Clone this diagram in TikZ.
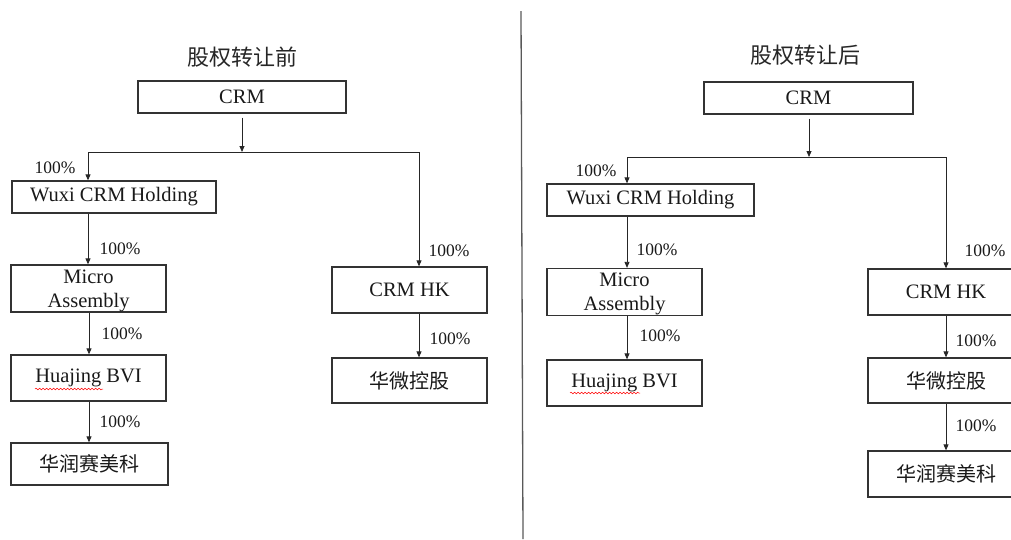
\documentclass[tikz,border=0pt]{standalone}
\usepackage{fontspec}
\setmainfont{Liberation Serif}
\newfontfamily\cjk{Noto Sans CJK SC}
\usetikzlibrary{arrows.meta,decorations.pathmorphing}
\begin{document}
\begin{tikzpicture}[x=1pt,y=-1pt,
  box/.style={draw=black!80, line width=1.3pt, inner sep=0pt, text=black!90,
    font=\fontsize{20.5}{24}\selectfont, align=center},
  cbox/.style={box, font=\cjk\fontsize{20}{24}\selectfont},
  lab/.style={font=\fontsize{17.5}{20}\selectfont, inner sep=0pt, text=black!90},
  ttl/.style={font=\cjk\fontsize{22}{26}\selectfont, inner sep=0pt, text=black!85},
  arr/.style={draw=black!85, line width=0.8pt, -{Triangle[length=6pt,width=5pt]}},
  ln/.style={draw=black!85, line width=0.8pt},
  divider/.style={draw=black!65, line width=1.3pt},
  spell/.style={draw=red, line width=0.5pt, decorate,
    decoration={snake, amplitude=0.8pt, segment length=3.5pt}}
]
\useasboundingbox (0,0) rectangle (1011,539);

% ---------- divider ----------
\coordinate (dtop) at (521,11);
\coordinate (dbot) at (523,539);
\draw[divider] (dtop) -- (dbot);

% ---------- left: before ----------
\node[ttl] (titleL) at (242,57) {股权转让前};
\node[box, minimum width=208pt, minimum height=32pt] (crmL) at (242,97) {CRM};
\node[box, minimum width=204pt, minimum height=32pt] (wuxiL) at (114,197) {Wuxi CRM Holding};
\node[box, minimum width=155pt, minimum height=47pt] (microL) at (88.5,288.5) {\rule{0pt}{18pt}Micro\\Assembly};
\node[box, minimum width=155pt, minimum height=46pt] (huaL) at (88.5,378) {Huajing BVI};
\node[cbox, minimum width=157pt, minimum height=42pt] (hrL) at (89.5,464) {华润赛美科};
\node[box, minimum width=155pt, minimum height=46pt] (hkL) at (409.5,290) {CRM HK};
\node[cbox, minimum width=155pt, minimum height=45pt] (hwL) at (409.5,380.5) {华微控股};

\coordinate (jL) at (242,152);
\coordinate (aL) at (88,152);
\coordinate (bL) at (419,152);
\coordinate (cL) at (89,152);
\draw[ln] (aL) -- (bL);
\draw[arr] ([yshift=-4pt]crmL.south) -- (jL);
\draw[arr] (aL) -- (aL |- wuxiL.north);
\draw[arr] (bL) -- (bL |- hkL.north);
\draw[arr] (wuxiL.south -| aL) -- (aL |- microL.north);
\draw[arr] (microL.south -| cL) -- (cL |- huaL.north);
\draw[arr] (huaL.south -| cL) -- (cL |- hrL.north);
\draw[arr] (hkL.south -| bL) -- (bL |- hwL.north);
\draw[spell] (35,389) -- (103,389);

\node[lab] (pL1) at (55,168) {100\%};
\node[lab] (pL2) at (120,249) {100\%};
\node[lab] (pL3) at (122,334) {100\%};
\node[lab] (pL4) at (120,422) {100\%};
\node[lab] (pL5) at (449,251) {100\%};
\node[lab] (pL6) at (450,339) {100\%};

% ---------- right: after ----------
\node[ttl] (titleR) at (805,55) {股权转让后};
\node[box, minimum width=209pt, minimum height=32pt] (crmR) at (808.5,98) {CRM};
\node[box, minimum width=207pt, minimum height=32pt] (wuxiR) at (650.5,200) {Wuxi CRM Holding};
\node[box, minimum width=155pt, minimum height=47pt] (microR) at (624.5,292) {\rule{0pt}{18pt}Micro\\Assembly};
\node[box, minimum width=155pt, minimum height=46pt] (huaR) at (624.5,383) {Huajing BVI};
\node[box, minimum width=156pt, minimum height=46pt] (hkR) at (946,292) {CRM HK};
\node[cbox, minimum width=156pt, minimum height=45pt] (hwR) at (946,380.5) {华微控股};
\node[cbox, minimum width=156pt, minimum height=46pt] (hrR) at (946,474) {华润赛美科};

\coordinate (jR) at (809,157);
\coordinate (aR) at (627,157);
\coordinate (bR) at (946,157);
\draw[ln] (aR) -- (bR);
\draw[arr] ([yshift=-4pt]crmR.south -| jR) -- (jR);
\draw[arr] (aR) -- (aR |- wuxiR.north);
\draw[arr] (bR) -- (bR |- hkR.north);
\draw[arr] (wuxiR.south -| aR) -- (aR |- microR.north);
\draw[arr] (microR.south -| aR) -- (aR |- huaR.north);
\draw[arr] (hkR.south) -- (hwR.north);
\draw[arr] (hwR.south) -- (hrR.north);
\draw[spell] (570,393) -- (640,393);

\node[lab] (pR1) at (596,171) {100\%};
\node[lab] (pR2) at (657,250) {100\%};
\node[lab] (pR3) at (660,336) {100\%};
\node[lab] (pR4) at (985,251) {100\%};
\node[lab] (pR5) at (976,341) {100\%};
\node[lab] (pR6) at (976,426) {100\%};
\end{tikzpicture}
\end{document}
